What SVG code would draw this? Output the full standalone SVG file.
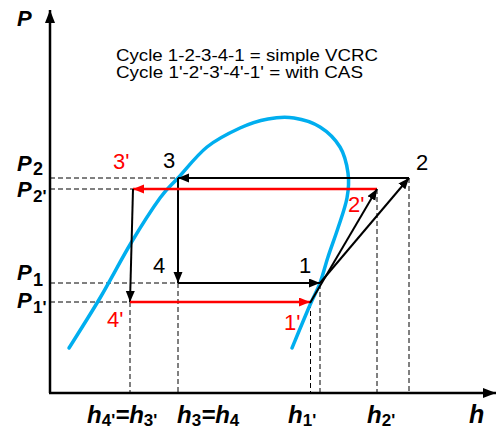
<svg xmlns="http://www.w3.org/2000/svg" width="498" height="430" viewBox="0 0 498 430">
<style>
.ax{stroke:#000;stroke-width:2.5;fill:none}
.dash{stroke:#000;stroke-width:1;stroke-dasharray:5,3;fill:none}
.blk{stroke:#000;stroke-width:2;fill:none}
.red{stroke:#f00;stroke-width:2.5;fill:none}
.dome{stroke:#00aeef;stroke-width:3.5;fill:none;stroke-linecap:round}
.lab{font-family:"Liberation Sans",Arial,sans-serif}
.bi{font-family:"Liberation Sans",Arial,sans-serif;font-weight:bold;font-style:italic}
.sub{font-family:"Liberation Sans",Arial,sans-serif;font-weight:bold;font-style:normal}
</style>
<defs>
<marker id="ak" markerUnits="userSpaceOnUse" markerWidth="12" markerHeight="10" refX="11" refY="4.5" orient="auto"><path d="M0,0 L11,4.5 L0,9 z" fill="#000"/></marker>
<marker id="ar" markerUnits="userSpaceOnUse" markerWidth="12" markerHeight="10" refX="11" refY="4.5" orient="auto"><path d="M0,0 L11,4.5 L0,9 z" fill="#f00"/></marker>
<marker id="axm" markerUnits="userSpaceOnUse" markerWidth="14" markerHeight="12" refX="13" refY="5" orient="auto"><path d="M0,0 L13,5 L0,10 z" fill="#000"/></marker>
</defs>
<rect width="498" height="430" fill="#fff"/>

<g id="axes">
<line class="ax" x1="50" y1="393" x2="50" y2="10" marker-end="url(#axm)"/>
<line class="ax" x1="49" y1="393" x2="496" y2="393" marker-end="url(#axm)"/>
<text class="bi" x="17" y="26" font-size="22">P</text>
<text class="bi" x="469" y="423" font-size="25">h</text>
</g>

<g id="guides">
<line class="dash" x1="50" y1="178" x2="178" y2="178"/>
<line class="dash" x1="50" y1="189" x2="133" y2="189"/>
<line class="dash" x1="50" y1="283" x2="178" y2="283"/>
<line class="dash" x1="50" y1="302" x2="130" y2="302"/>
<line class="dash" x1="130" y1="302" x2="130" y2="393"/>
<line class="dash" x1="178" y1="283" x2="178" y2="393"/>
<line class="dash" x1="310.5" y1="303" x2="310.5" y2="393"/>
<line class="dash" x1="320" y1="284" x2="320" y2="393"/>
<line class="dash" x1="377" y1="189" x2="377" y2="393"/>
<line class="dash" x1="409" y1="178" x2="409" y2="393"/>
</g>

<g id="dome">
<path class="dome" d="M69,348 C74.2,339.7 89.7,315.5 100,298 C110.3,280.5 121,259.7 131,243 C141,226.3 152.2,208.8 160,198 C167.8,187.2 170.2,186.5 178,178 C185.8,169.5 196.7,155.3 207,147 C217.3,138.7 229.8,132.7 240,128 C250.2,123.3 259,120.7 268,119 C277,117.3 285.3,116.7 294,118 C302.7,119.3 312.3,122.2 320,127 C327.7,131.8 335.3,139.3 340,147 C344.7,154.7 346.8,164.5 348,173 C349.2,181.5 348.7,188.8 347,198 C345.3,207.2 341.2,218.2 338,228 C334.8,237.8 331,247.8 328,257 C325,266.2 323,275 320,283 C317,291 314.7,294.2 310,305 C305.3,315.8 295,340.8 292,348"/>
</g>

<g id="connectors">
<line class="blk" x1="409" y1="178" x2="178" y2="178" marker-end="url(#ak)"/>
<line class="blk" x1="178" y1="178" x2="178" y2="283" marker-end="url(#ak)"/>
<line class="blk" x1="178" y1="283" x2="320" y2="283" marker-end="url(#ak)"/>
<line class="blk" x1="320" y1="283" x2="409" y2="178" marker-end="url(#ak)"/>
<line class="red" x1="377" y1="189" x2="133" y2="189" marker-end="url(#ar)"/>
<line class="blk" x1="133" y1="189" x2="130" y2="302" marker-end="url(#ak)"/>
<line class="red" x1="130" y1="302" x2="310" y2="302" marker-end="url(#ar)"/>
<line class="blk" x1="310" y1="303" x2="377" y2="189" marker-end="url(#ak)"/>
</g>

<g id="pressure-labels">
<text class="bi" x="17" y="171" font-size="22">P</text><text class="sub" x="33" y="175" font-size="18">2</text>
<text class="bi" x="17" y="197" font-size="22">P</text><text class="sub" x="33" y="202" font-size="17">2'</text>
<text class="bi" x="17" y="280" font-size="22">P</text><text class="sub" x="33" y="286" font-size="18">1</text>
<text class="bi" x="17" y="308" font-size="22">P</text><text class="sub" x="33" y="313" font-size="17">1'</text>
</g>

<g id="enthalpy-labels">
<text class="bi" x="87" y="423" font-size="24">h<tspan class="sub" font-size="17" dy="3">4'</tspan><tspan dy="-3">=h</tspan><tspan class="sub" font-size="17" dy="3">3'</tspan></text>
<text class="bi" x="177" y="423" font-size="24">h<tspan class="sub" font-size="17" dy="3">3</tspan><tspan dy="-3">=h</tspan><tspan class="sub" font-size="17" dy="3">4</tspan></text>
<text class="bi" x="288" y="423" font-size="24">h<tspan class="sub" font-size="17" dy="3">1'</tspan></text>
<text class="bi" x="367" y="423" font-size="24">h<tspan class="sub" font-size="17" dy="3">2'</tspan></text>
</g>

<g id="state-labels" class="lab" font-size="22">
<text x="163" y="168">3</text>
<text x="113" y="169" fill="#f00">3'</text>
<text x="153" y="273">4</text>
<text x="107" y="327" fill="#f00">4'</text>
<text x="299" y="273">1</text>
<text x="284" y="330" fill="#f00">1'</text>
<text x="416" y="170">2</text>
<text x="348" y="212" fill="#f00">2'</text>
</g>

<g id="caption" class="lab" font-size="16.5">
<text x="116" y="61" textLength="262" lengthAdjust="spacingAndGlyphs">Cycle 1-2-3-4-1 = simple VCRC</text>
<text x="116" y="78" textLength="247" lengthAdjust="spacingAndGlyphs">Cycle 1'-2'-3'-4'-1' = with CAS</text>
</g>
</svg>
